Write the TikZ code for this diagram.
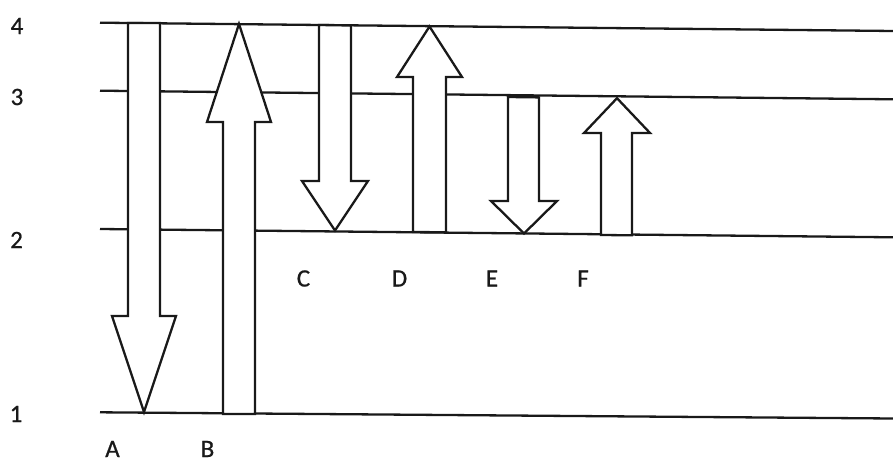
\documentclass[tikz,border=0pt]{standalone}
\usepackage{fontspec}
\setmainfont{Carlito}
\newfontfamily\labfont{Carlito}[FakeBold=0.7]
\begin{document}
\begin{tikzpicture}[x=1pt,y=-1pt,
  level/.style={line width=2.3pt, draw=black!90},
  blockarrow/.style={line width=2.3pt, draw=black!90, fill=white, line join=miter},
  lab/.style={font=\labfont\fontsize{25}{25}\selectfont, text=black!90, inner sep=0pt, anchor=center}]
\useasboundingbox (0,0) rectangle (893,462);
\fill[white] (0,0) rectangle (893,462);
% energy levels
\coordinate (L4a) at (100,22.7); \coordinate (L4b) at (893,31);
\coordinate (L3a) at (100,90.7); \coordinate (L3b) at (893,99.3);
\coordinate (L2a) at (100,229);  \coordinate (L2b) at (893,237.3);
\coordinate (L1a) at (100,412.3);\coordinate (L1b) at (893,418.5);
\draw[level] (L4a) -- (L4b);
\draw[level] (L3a) -- (L3b);
\draw[level] (L2a) -- (L2b);
\draw[level] (L1a) -- (L1b);
% A: 4 -> 1 (down)
\draw[blockarrow] (128,23) -- (128,316) -- (112,316) -- (144,412) -- (176,316) -- (160,316) -- (160,23) -- cycle;
% B: 1 -> 4 (up)
\draw[blockarrow] (223,414) -- (223,122) -- (207,122) -- (239,24) -- (271,122) -- (255,122) -- (255,414) -- cycle;
% C: 4 -> 2 (down)
\draw[blockarrow] (319,25) -- (319,181) -- (302,181) -- (335,230.5) -- (368,181) -- (351,181) -- (351,25.5) -- cycle;
% D: 2 -> 4 (up)
\draw[blockarrow] (413,232) -- (413,77) -- (397,77) -- (429.5,26.5) -- (462,77) -- (446,77) -- (446,232.3) -- cycle;
% E: 3 -> 2 (down)
\draw[blockarrow] (508,97) -- (508,201) -- (491,201) -- (524,233.5) -- (557,201) -- (539,201) -- (539,97.4) -- cycle;
% F: 2 -> 3 (up)
\draw[blockarrow] (601,235) -- (601,133) -- (584,133) -- (617,98.2) -- (650,133) -- (632,133) -- (632,235.3) -- cycle;
% level labels
\node[lab] (n4) at (17,26) {4};
\node[lab] (n3) at (17,97) {3};
\node[lab] (n2) at (16.5,240) {2};
\node[lab] (n1) at (16,414) {1};
% transition labels
\node[lab] (tA) at (112.5,449) {A};
\node[lab] (tB) at (207.5,449) {B};
\node[lab] (tC) at (303.5,278.5) {C};
\node[lab] (tD) at (399.5,278.5) {D};
\node[lab] (tE) at (492,278.5) {E};
\node[lab] (tF) at (583,278.5) {F};
\end{tikzpicture}
\end{document}
